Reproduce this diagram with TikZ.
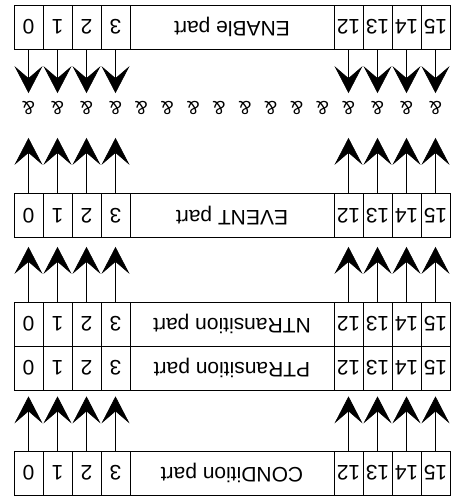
\documentclass[tikz,border=0pt]{standalone}
\usepackage{fontspec}
\setmainfont{Liberation Sans}
\usepackage{graphicx}
\usetikzlibrary{arrows.meta}
\newcommand{\ud}[1]{\rotatebox[origin=c]{180}{#1}}

\begin{document}
\begin{tikzpicture}[x=1pt, y=-1pt,
    bitcell/.style={draw, line width=0.7pt, minimum width=29pt, minimum height=44pt,
      inner sep=0pt, font=\fontsize{21}{22}\selectfont},
    partcell/.style={bitcell, minimum width=204pt},
    andsym/.style={inner sep=0pt, font=\fontsize{19}{19}\selectfont},
    sig/.style={line width=0.6pt, -{Stealth[length=27pt, width=28pt, inset=12pt]}}]
  \useasboundingbox (0,0) rectangle (455,496);

  % registers (picture is printed upside down)
  \foreach \reg/\ypos/\txt in {ena/27/ENABle part, evt/215.5/EVENT part,
      ntr/324/NTRansition part, ptr/368/PTRansition part, cnd/473/CONDition part} {
    \foreach \i in {0,...,3}
      \node[bitcell] (\reg-\i) at ({28.5+29*\i},\ypos) {\ud{\i}};
    \node[partcell] (\reg-mid) at (232,\ypos) {\ud{\txt}};
    \foreach \i in {12,...,15}
      \node[bitcell] (\reg-\i) at ({348.5+29*(\i-12)},\ypos) {\ud{\i}};
  }

  % row of and gates
  \foreach \i in {0,...,3}
    \node[andsym] (and-\i) at ({28.5+29*\i},108) {\ud{\&}};
  \foreach \i in {4,...,11}
    \node[andsym] (and-\i) at ({115.5+25.89*(\i-3)},108) {\ud{\&}};
  \foreach \i in {12,...,15}
    \node[andsym] (and-\i) at ({348.5+29*(\i-12)},108) {\ud{\&}};

  % signal arrows
  \foreach \i in {0,1,2,3,12,13,14,15} {
    \draw[sig, shorten >=8pt] (ena-\i) -- (and-\i);
    \draw[sig, shorten >=23pt] (evt-\i) -- (and-\i);
    \draw[sig, shorten >=9pt] (ntr-\i) -- (evt-\i);
    \draw[sig, shorten >=6pt] (cnd-\i) -- (ptr-\i);
  }
\end{tikzpicture}
\end{document}
